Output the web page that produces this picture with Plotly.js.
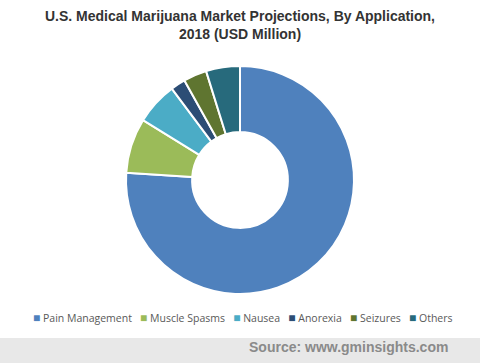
<!DOCTYPE html>
<html>
<head>
<meta charset="utf-8">
<script src="https://cdn.plot.ly/plotly-3.0.1.min.js"></script>
<style>html,body{margin:0;padding:0;background:#fff;}#chart{width:480px;height:363px;}</style>
</head>
<body>
<div id="chart"></div>
<script>
const categories = ["Pain Management", "Muscle Spasms", "Nausea", "Anorexia", "Seizures", "Others"];
const values = [76.0, 7.8, 6.0, 2.1, 3.3, 4.8];
const colors = ["#4f81bd", "#9bbb59", "#4bacc6", "#2c4d75", "#5f7530", "#276a7c"];

const trace = {
  type: "pie",
  labels: categories,
  values: values,
  hole: 0.42,
  sort: false,
  direction: "clockwise",
  rotation: 0,
  textinfo: "none",
  hoverinfo: "label+value",
  marker: { colors: colors, line: { color: "#ffffff", width: 2 } }
};

// Compact legend built from the category/colour arrays
const legendText = categories.map((c, i) =>
  `<span style="color:${colors[i]};font-size:12px">■</span> ${c}`
).join("&nbsp;&nbsp;&nbsp;");

const layout = {
  width: 480,
  height: 363,
  margin: { l: 0, r: 0, t: 66, b: 69, pad: 0 },
  paper_bgcolor: "#ffffff",
  showlegend: false,
  title: {
    text: "U.S. Medical Marijuana Market Projections, By Application,<br>2018 (USD Million)",
    x: 0.5, xanchor: "center",
    y: 0.943, yanchor: "middle", yref: "container",
    font: { family: "Liberation Sans, Arial, sans-serif", size: 14, color: "#333333", weight: "bold" }
  },
  shapes: [{
    type: "rect", xref: "paper", yref: "paper",
    x0: 0, x1: 1, y0: -0.193, y1: -0.31,
    fillcolor: "#e8e8e8", line: { width: 0 }, layer: "below"
  }],
  annotations: [{
    text: legendText,
    xref: "paper", yref: "paper",
    x: 243 / 480, xanchor: "center",
    y: -0.105, yanchor: "middle",
    showarrow: false,
    font: { family: "Open Sans, sans-serif", size: 10.5, color: "#595959" }
  }, {
    text: "Source: www.gminsights.com",
    xref: "paper", yref: "paper",
    x: 0.9375, xanchor: "right",
    y: -0.2325, yanchor: "middle",
    showarrow: false,
    font: { family: "Liberation Sans, Arial, sans-serif", size: 14, color: "#8a8a8a", weight: "bold" }
  }]
};

Plotly.newPlot("chart", [trace], layout, { displayModeBar: false, staticPlot: true });
</script>
</body>
</html>
